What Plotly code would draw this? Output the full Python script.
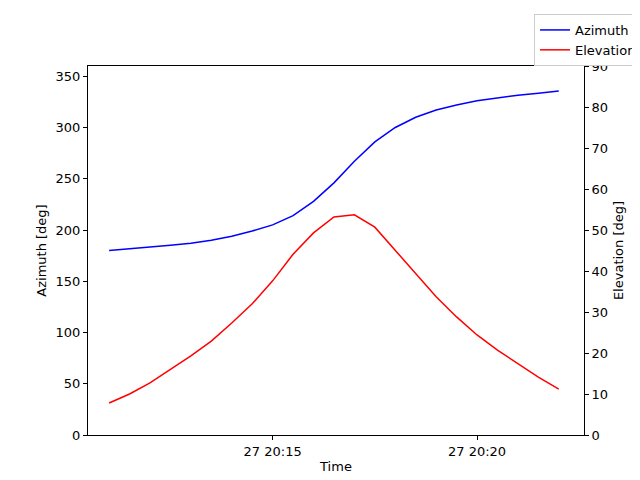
import plotly.graph_objects as go
import pandas as pd

times = pd.date_range("2024-01-27 20:11:00", periods=23, freq="30s")
azimuth = [180, 181.5, 183, 185, 187, 190, 194, 199, 205, 214, 228, 246, 267, 286, 300, 310, 317, 322, 326, 329, 331.5, 333.5, 335.5]
elevation = [7.8, 10.0, 12.7, 15.9, 19.3, 22.9, 27.3, 32.0, 37.6, 44.1, 49.3, 53.2, 53.7, 50.7, 45.1, 39.5, 33.7, 28.8, 24.4, 20.7, 17.3, 14.1, 11.2]
tick_vals = ["2024-01-27 20:15:00", "2024-01-27 20:20:00"]
tick_text = ["27 20:15", "27 20:20"]

fig = go.Figure()
fig.add_trace(go.Scatter(x=times, y=azimuth, mode="lines", name="Azimuth",
                         line=dict(color="blue", width=1.5)))
fig.add_trace(go.Scatter(x=times, y=elevation, mode="lines", name="Elevation",
                         line=dict(color="red", width=1.5), yaxis="y2"))

axis_common = dict(showline=True, linecolor="black", linewidth=1, ticks="outside",
                   tickcolor="black", ticklen=4, showgrid=False, zeroline=False,
                   automargin=False, tickfont=dict(size=13, color="black"))
fig.update_layout(
    width=640, height=480, plot_bgcolor="white", paper_bgcolor="white",
    margin=dict(l=80, r=64, t=58, b=53, autoexpand=False),
    font=dict(family="DejaVu Sans", size=13, color="black"),
    xaxis=dict(**axis_common, range=["2024-01-27 20:10:29", "2024-01-27 20:22:37"],
               tickvals=tick_vals, ticktext=tick_text, mirror=True,
               title=dict(text="Time", standoff=4, font=dict(size=13))),
    yaxis=dict(**axis_common, range=[0, 360], dtick=50, mirror=False,
               title=dict(text="Azimuth [deg]", standoff=6, font=dict(size=13))),
    yaxis2=dict(**axis_common, range=[0, 90], dtick=10, overlaying="y", side="right",
                title=dict(text="Elevation [deg]", standoff=6, font=dict(size=13))),
    legend=dict(x=1.117, y=1.141, xanchor="right", yanchor="top",
                bordercolor="#cccccc", borderwidth=1, bgcolor="white",
                font=dict(size=13), tracegroupgap=0, itemwidth=30),
    showlegend=True,
)
fig.write_html("out.html")
